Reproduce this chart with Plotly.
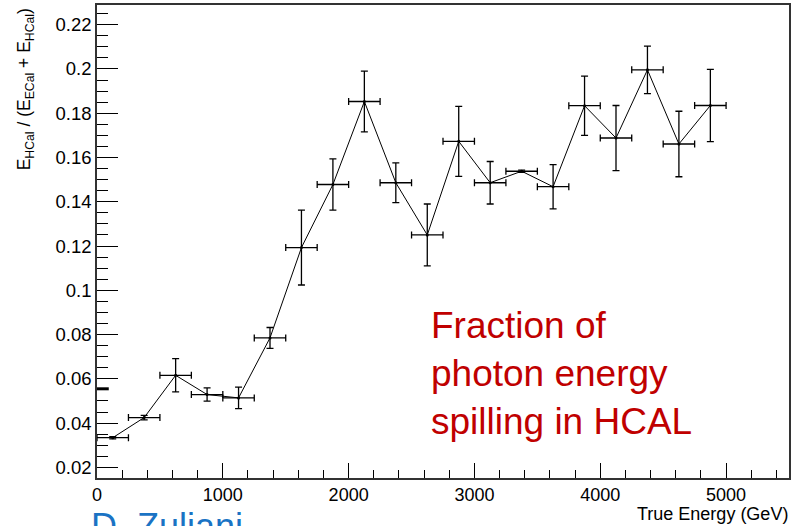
import plotly.graph_objects as go

# Data
energy = [125, 375, 625, 875, 1125, 1375, 1625, 1875, 2125, 2375,
          2625, 2875, 3125, 3375, 3625, 3875, 4125, 4375, 4625, 4875]
fraction = [0.0334, 0.0425, 0.0616, 0.0529, 0.0514, 0.0785, 0.1193, 0.1478, 0.1853, 0.1486,
            0.1250, 0.1673, 0.1486, 0.1538, 0.1468, 0.1834, 0.1688, 0.1996, 0.1661, 0.1835]
fraction_err = [0.0005, 0.0010, 0.0075, 0.0030, 0.0049, 0.0047, 0.0169, 0.0116, 0.0137, 0.0090,
                0.0140, 0.0158, 0.0096, 0.0005, 0.0100, 0.0134, 0.0147, 0.0107, 0.0148, 0.0163]
bin_half_width = [125] * len(energy)

y_tickvals = [0.02, 0.04, 0.06, 0.08, 0.10, 0.12, 0.14, 0.16, 0.18, 0.20, 0.22]
y_ticktext = ["0.02", "0.04", "0.06", "0.08", "0.1", "0.12", "0.14", "0.16", "0.18", "0.2", "0.22"]
x_tickvals = [0, 1000, 2000, 3000, 4000, 5000]
x_ticktext = ["0", "1000", "2000", "3000", "4000", "5000"]

FONT = "Liberation Sans, Arial, Helvetica, sans-serif"

fig = go.Figure()
fig.add_trace(go.Scatter(
    x=energy, y=fraction,
    mode="lines+markers",
    line=dict(color="black", width=1),
    marker=dict(color="black", size=3),
    error_y=dict(type="data", array=fraction_err, color="black", thickness=1.3, width=3.5),
    error_x=dict(type="data", array=bin_half_width, color="black", thickness=1.3, width=3.5),
    showlegend=False,
))

fig.update_layout(
    width=794, height=526,
    margin=dict(l=97, r=3, t=3, b=48),
    paper_bgcolor="white", plot_bgcolor="white",
    font=dict(family=FONT, color="black", size=18),
    xaxis=dict(
        range=[0, 5500], showgrid=False, zeroline=False,
        showline=True, linecolor="#333", linewidth=1.5, mirror=True,
        ticks="inside", ticklen=15, tickwidth=1, tickcolor="black",
        tickvals=x_tickvals, ticktext=x_ticktext,
        tickfont=dict(size=18, family=FONT),
        minor=dict(dtick=200, ticks="inside", ticklen=8, tickwidth=1, tickcolor="black"),
    ),
    yaxis=dict(
        range=[0.0152, 0.2289], showgrid=False, zeroline=False,
        showline=True, linecolor="#333", linewidth=1.5, mirror=True,
        ticks="inside", ticklen=21, tickwidth=1, tickcolor="black",
        tickvals=y_tickvals, ticktext=y_ticktext,
        tickfont=dict(size=18.5, family=FONT),
        minor=dict(dtick=0.005, tick0=0, ticks="inside", ticklen=11, tickwidth=1, tickcolor="black"),
    ),
)

# short bold mark on the y axis
fig.add_shape(type="line", xref="paper", yref="y", x0=0, x1=0.017, y0=0.0555, y1=0.0555,
              line=dict(color="black", width=3))

# y-axis title (top aligned, ROOT style)
fig.add_annotation(
    xref="paper", yref="paper", x=-0.102, y=0.998, xanchor="center", yanchor="top",
    text="E<sub>HCal</sub> / (E<sub>ECal</sub> + E<sub>HCal</sub>)",
    textangle=-90, showarrow=False, font=dict(size=17.5, family=FONT, color="black"),
)

# x-axis title (right aligned)
fig.add_annotation(
    xref="paper", yref="paper", x=1.002, y=-0.076, xanchor="right", yanchor="middle",
    text="True Energy (GeV)", showarrow=False, font=dict(size=18, family=FONT, color="black"),
)

# red note
fig.add_annotation(
    xref="x", yref="y", x=2640, y=0.0625, xanchor="left", yanchor="middle", align="left",
    text="Fraction of<br>photon energy<br>spilling in HCAL", showarrow=False,
    font=dict(size=37, family=FONT, color="#c00000"),
)

# author credit (cut off at bottom)
fig.add_annotation(
    xref="paper", yref="paper", x=-0.012, y=-0.103, xanchor="left", yanchor="middle",
    text="D. Zuliani", showarrow=False, font=dict(size=36, family=FONT, color="#1a73c4"),
)

fig.write_html("out.html")
